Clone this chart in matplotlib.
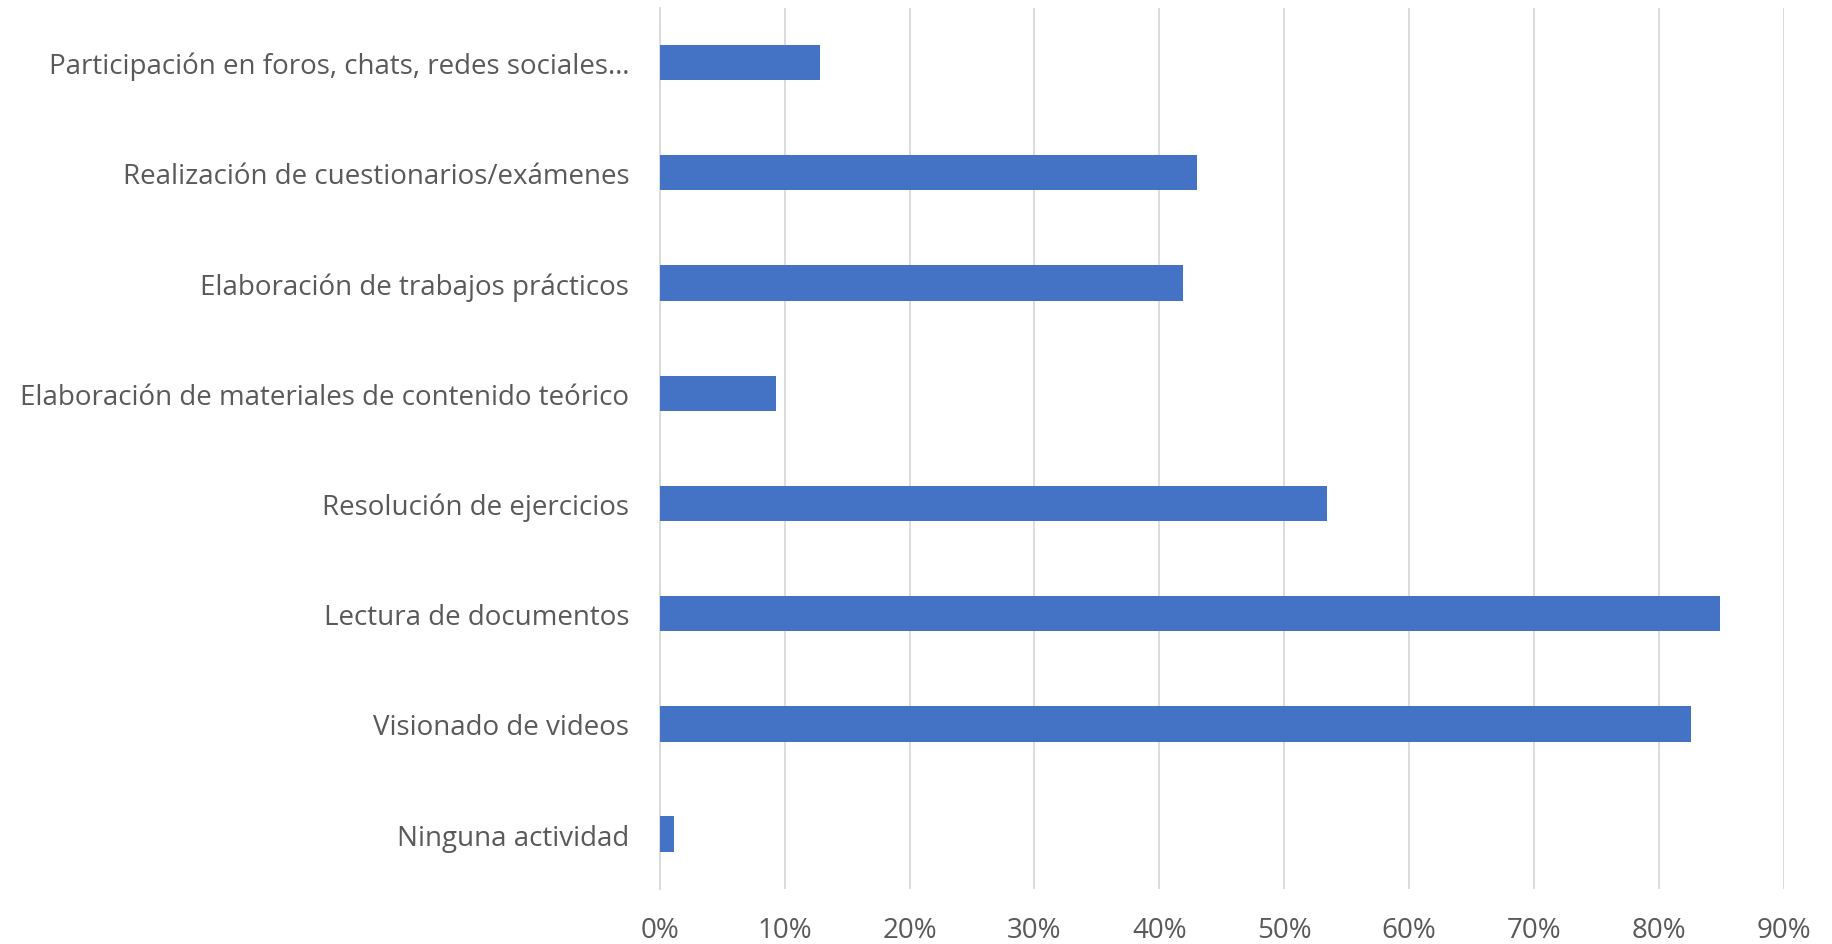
import matplotlib
matplotlib.use("Agg")
import matplotlib.pyplot as plt
from matplotlib.ticker import PercentFormatter
import numpy as np

# categories bottom -> top, as drawn
categories = [
    "Ninguna actividad",
    "Visionado de videos",
    "Lectura de documentos",
    "Resolución de ejercicios",
    "Elaboración de materiales de contenido teórico",
    "Elaboración de trabajos prácticos",
    "Realización de cuestionarios/exámenes",
    "Participación en foros, chats, redes sociales…",
]
values = [0.011, 0.826, 0.849, 0.534, 0.093, 0.419, 0.430, 0.128]
xticks = [0, 0.1, 0.2, 0.3, 0.4, 0.5, 0.6, 0.7, 0.8, 0.9]

plt.rcParams["font.family"] = ["Open Sans", "DejaVu Sans"]
text_color = "#595959"
grid_color = "#d9d9d9"

fig = plt.figure(figsize=(18.33, 9.45), dpi=100)
ax = fig.add_axes([0.360, 0.058, 0.613, 0.933])

y = np.arange(len(categories))
ax.barh(y, values, height=0.32, color="#4472c4", zorder=3)

ax.set_xlim(0, 0.9)
ax.set_ylim(-0.5, len(categories) - 0.5)
ax.set_xticks(xticks)
ax.xaxis.set_major_formatter(PercentFormatter(1.0, decimals=0))
ax.set_yticks(y)
ax.set_yticklabels(categories)

ax.grid(axis="x", color=grid_color, linewidth=1.3, zorder=0)
for s in ["top", "right", "bottom"]:
    ax.spines[s].set_visible(False)
ax.spines["left"].set_color(grid_color)
ax.spines["left"].set_linewidth(1.3)

ax.tick_params(axis="both", length=0, labelsize=20, labelcolor=text_color)
ax.tick_params(axis="x", pad=19)
ax.tick_params(axis="y", pad=22)

fig.savefig("out.png", dpi=100)
